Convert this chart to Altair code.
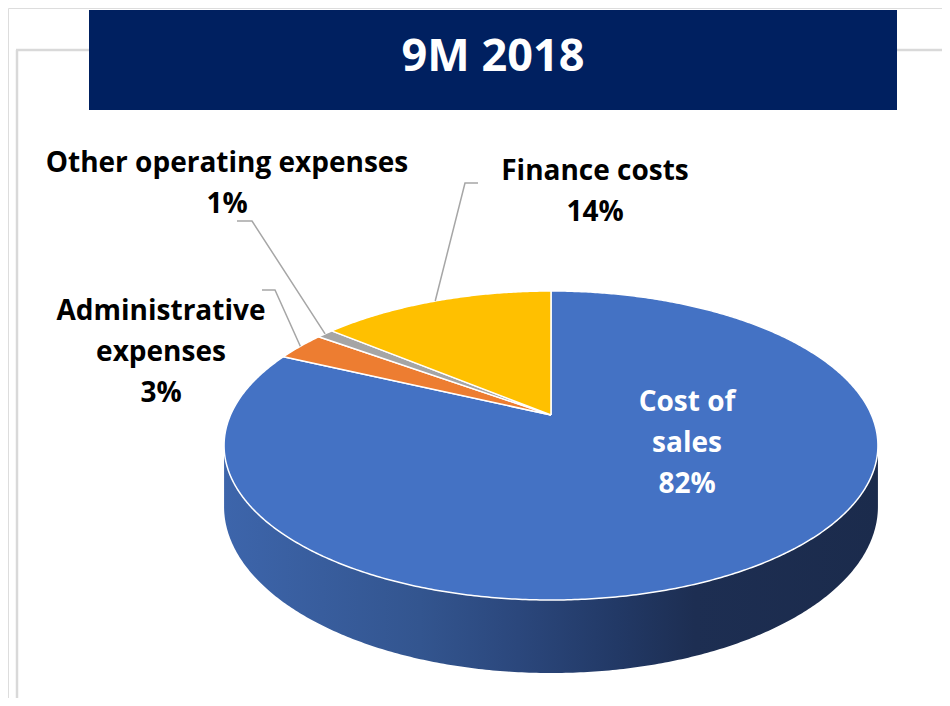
import math
import pandas as pd
import altair as alt

# ---------------- data ----------------
categories = ["Cost of sales", "Administrative expenses", "Other operating expenses", "Finance costs"]
shares = [82, 3, 1, 14]
slice_colors = ["#4472C4", "#ED7D31", "#A5A5A5", "#FFC000"]
title_text = "9M 2018"

# ---------------- layout (page pixels) ----------------
CX, CY = 551.0, 415.0      # projected pie centre
A, B = 320.5, 148.5        # projected radii
P = 0.1974                 # perspective factor
DEPTH = 58.6               # thickness of the pie
START = 90.0               # first slice starts at 12 o'clock, clockwise

label_wrap = {
    "Cost of sales": ["Cost of", "sales"],
    "Administrative expenses": ["Administrative", "expenses"],
    "Other operating expenses": ["Other operating expenses"],
    "Finance costs": ["Finance costs"],
}
label_anchor = {  # centre x, first baseline y
    "Cost of sales": (687, 411),
    "Administrative expenses": (161, 320),
    "Other operating expenses": (227, 172),
    "Finance costs": (595, 180),
}
label_color = {"Cost of sales": "white"}
leader_path = {  # elbow, end of leader line
    "Administrative expenses": [(275, 290), (262, 290)],
    "Other operating expenses": [(252, 221), (237, 221)],
    "Finance costs": [(465, 183), (478, 183)],
}
LINE_H = 41


def proj(phi_deg, drop=0.0):
    ph = math.radians(phi_deg)
    X, Yd = math.cos(ph), math.sin(ph)
    w = 1 + P * Yd
    return CX + A * X / w, CY - B * Yd / w + drop / w


total = float(sum(shares))

# slices of the top face
rows = []
mid_angle = {}
cum = 0.0
for cat, v in zip(categories, shares):
    a0 = START - 360 * cum / total
    a1 = START - 360 * (cum + v) / total
    mid_angle[cat] = (a0 + a1) / 2
    n = max(int(abs(a1 - a0) * 2), 4)
    pts = [(CX, CY)] + [proj(a0 + (a1 - a0) * i / n) for i in range(n + 1)] + [(CX, CY)]
    for k, (x, y) in enumerate(pts):
        rows.append({"cat": cat, "k": k, "x": x, "y": y})
    cum += v
slices_df = pd.DataFrame(rows)

# visible front side (belongs to the first slice)
a_edge = math.degrees(math.asin(P))
phis = [180 + a_edge + (180 - 2 * a_edge) * i / 300 for i in range(301)]
side_pts = [proj(ph) for ph in phis] + [proj(ph, DEPTH) for ph in reversed(phis)]
side_df = pd.DataFrame([{"k": k, "x": x, "y": y} for k, (x, y) in enumerate(side_pts)])

# labels
lab_rows = []
for cat, v in zip(categories, shares):
    lines = label_wrap[cat] + [f"{v}%"]
    ax, ay = label_anchor[cat]
    for i, t in enumerate(lines):
        lab_rows.append({"t": t, "x": ax, "y": ay + i * LINE_H, "c": label_color.get(cat, "black")})
labels_df = pd.DataFrame(lab_rows)

# leader lines
lead_rows = []
for cat, path in leader_path.items():
    pts = [proj(mid_angle[cat])] + path
    for k, (x, y) in enumerate(pts):
        lead_rows.append({"cat": cat, "k": k, "x": x, "y": y})
lead_df = pd.DataFrame(lead_rows)

xs = alt.X("x:Q", scale=alt.Scale(domain=[8, 942], nice=False, zero=False), axis=None)
ys = alt.Y("y:Q", scale=alt.Scale(domain=[8, 698], nice=False, zero=False, reverse=True), axis=None)

one = pd.DataFrame({"d": [0]})

frame_h = alt.Chart(one).mark_rule(color="#D9D9D9", strokeWidth=2.5).encode(
    x=alt.value(8), x2=alt.value(934), y=alt.value(42))
frame_v = alt.Chart(one).mark_rule(color="#D9D9D9", strokeWidth=2.5).encode(
    x=alt.value(9), y=alt.value(42), y2=alt.value(690))
banner = alt.Chart(one).mark_rect(color="#002060").encode(
    x=alt.value(81), x2=alt.value(889), y=alt.value(2), y2=alt.value(102))
title = alt.Chart(one).mark_text(
    text=title_text, font="Open Sans", fontWeight="bold", fontSize=45, color="white",
    align="center", baseline="alphabetic").encode(x=alt.value(485), y=alt.value(62.5))

side = alt.Chart(side_df).mark_line(
    filled=True,
    fill=alt.Gradient(gradient="linear", x1=0, x2=1, y1=0, y2=0, stops=[
        alt.GradientStop(color="#3D65AB", offset=0),
        alt.GradientStop(color="#33558F", offset=0.3),
        alt.GradientStop(color="#2B477C", offset=0.45),
        alt.GradientStop(color="#223966", offset=0.6),
        alt.GradientStop(color="#1D2E52", offset=0.72),
        alt.GradientStop(color="#1B2B4C", offset=1),
    ]),
    strokeWidth=0,
).encode(x=xs, y=ys, order="k:Q")

top = alt.Chart(slices_df).mark_line(filled=True, stroke="white", strokeWidth=1.5, strokeJoin="round").encode(
    x=xs, y=ys, order="k:Q",
    color=alt.Color("cat:N", scale=alt.Scale(domain=categories, range=slice_colors), legend=None),
    detail="cat:N",
)

leaders = alt.Chart(lead_df).mark_line(color="#A6A6A6", strokeWidth=1.5).encode(
    x=xs, y=ys, order="k:Q", detail="cat:N")

labels = alt.Chart(labels_df).mark_text(
    font="Open Sans", fontWeight="bold", fontSize=28, align="center", baseline="alphabetic").encode(
    x=xs, y=ys, text="t:N", color=alt.Color("c:N", scale=None))

chart = alt.layer(frame_h, frame_v, banner, title, side, top, leaders, labels).properties(
    width=934, height=690, autosize=alt.AutoSizeParams(type="none"), padding=0
).configure_view(stroke=None).configure(background="white")

chart.save("out.html", embed_options={"renderer": "svg", "actions": False})
